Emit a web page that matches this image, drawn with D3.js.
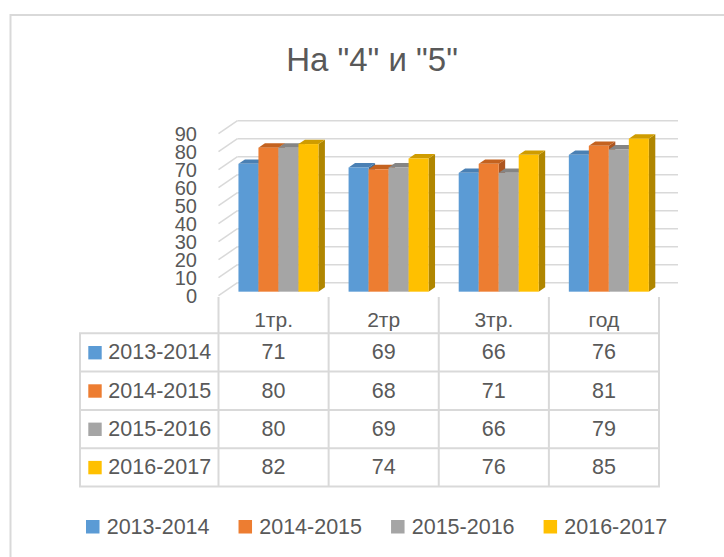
<!DOCTYPE html>
<html>
<head>
<meta charset="utf-8">
<script src="https://cdn.jsdelivr.net/npm/d3@7"></script>
<style>
  html, body { margin: 0; padding: 0; background: #fff; }
  svg { display: block; font-family: 'Liberation Sans', Arial, sans-serif; }
</style>
</head>
<body>
<div class="graph"></div>
<script>
const title = 'На "4" и "5"';
const categories = ['1тр.', '2тр', '3тр.', 'год'];
const seriesNames = ['2013-2014', '2014-2015', '2015-2016', '2016-2017'];
const values2013 = [71, 69, 66, 76];
const values2014 = [80, 68, 71, 81];
const values2015 = [80, 69, 66, 79];
const values2016 = [82, 74, 76, 85];
const yTicks = [0, 10, 20, 30, 40, 50, 60, 70, 80, 90];

const seriesValues = [values2013, values2014, values2015, values2016];
const colors = ['#5B9BD5', '#ED7D31', '#A5A5A5', '#FFC000'];
const topColors = ['#4a80b4', '#c4621f', '#858585', '#cf9c00'];
const sideColors = ['#3f6f9c', '#ad5520', '#737373', '#b08600'];

const width = 724;
const height = 557;
const textColor = '#595959';
const lineColor = '#d9d9d9';

// oblique depth of the plot floor
const depthX = 19;
const depthY = -13;
// bars sit between these fractions of the depth
const barF0 = 0.31;
const barF1 = 0.65;

const svg = d3.select('.graph').append('svg')
  .attr('width', width)
  .attr('height', height);

svg.append('rect')
  .attr('x', 10.5)
  .attr('y', 15)
  .attr('width', 900)
  .attr('height', 900)
  .attr('fill', '#fff')
  .attr('stroke', lineColor)
  .attr('stroke-width', 2);

svg.append('text')
  .attr('x', 372)
  .attr('y', 71)
  .attr('text-anchor', 'middle')
  .attr('font-size', 33)
  .attr('fill', textColor)
  .text(title);

const x = d3.scaleBand()
  .domain(categories)
  .range([218.5, 659]);

const y = d3.scaleLinear()
  .domain([0, 90])
  .range([295.7, 133.7]);

const xSeries = d3.scaleBand()
  .domain(seriesNames)
  .range([-41, 39]);

// gridlines: side wall and back wall
const grid = svg.append('g').classed('grid', true)
  .attr('stroke', lineColor)
  .attr('stroke-width', 1.5)
  .attr('fill', 'none');

grid.selectAll('.side')
  .data(yTicks)
  .enter()
  .append('line')
  .attr('x1', x.range()[0])
  .attr('y1', (d) => y(d))
  .attr('x2', x.range()[0] + depthX)
  .attr('y2', (d) => y(d) + depthY);

grid.selectAll('.back')
  .data(yTicks)
  .enter()
  .append('line')
  .attr('x1', x.range()[0] + depthX)
  .attr('y1', (d) => y(d) + depthY)
  .attr('x2', x.range()[1] + depthX)
  .attr('y2', (d) => y(d) + depthY);

// y axis labels
svg.append('g')
  .selectAll('text')
  .data(yTicks)
  .enter()
  .append('text')
  .attr('x', 197)
  .attr('y', (d) => y(d))
  .attr('dy', '0.36em')
  .attr('text-anchor', 'end')
  .attr('font-size', 20)
  .attr('fill', textColor)
  .text((d) => d);

// bars
const bdx = (barF1 - barF0) * depthX;
const bdy = (barF1 - barF0) * depthY;
const shiftX = barF0 * depthX;
const shiftY = barF0 * depthY;

const barData = [];
categories.forEach((c, ci) => {
  seriesNames.forEach((s, si) => {
    const x0 = x(c) + x.bandwidth() / 2 + xSeries(s) + shiftX;
    const x1 = x0 + xSeries.bandwidth();
    const yb = y(0) + shiftY;
    const yt = y(seriesValues[si][ci]) + shiftY;
    barData.push({ si, x0, x1, yb, yt });
  });
});

const bars = svg.append('g').classed('bars', true)
  .selectAll('g')
  .data(barData)
  .enter()
  .append('g');

bars.append('path')
  .attr('d', (d) => `M${d.x1},${d.yt}L${d.x1 + bdx},${d.yt + bdy}L${d.x1 + bdx},${d.yb + bdy}L${d.x1},${d.yb}Z`)
  .attr('fill', (d) => sideColors[d.si]);

bars.append('path')
  .attr('d', (d) => `M${d.x0},${d.yt}L${d.x1},${d.yt}L${d.x1 + bdx},${d.yt + bdy}L${d.x0 + bdx},${d.yt + bdy}Z`)
  .attr('fill', (d) => topColors[d.si]);

bars.append('rect')
  .attr('x', (d) => d.x0)
  .attr('y', (d) => d.yt)
  .attr('width', (d) => d.x1 - d.x0)
  .attr('height', (d) => d.yb - d.yt)
  .attr('fill', (d) => colors[d.si]);

// data table
const tableLeft = 80;
const headerTop = 297;
const rowTop = 333.3;
const rowH = 38.3;
const tableBottom = rowTop + rowH * seriesNames.length;

const table = svg.append('g').classed('table', true);

table.selectAll('.vline')
  .data(categories.map((c) => x(c)).concat([x.range()[1]]))
  .enter()
  .append('line')
  .attr('x1', (d) => d)
  .attr('x2', (d) => d)
  .attr('y1', headerTop)
  .attr('y2', tableBottom)
  .attr('stroke', lineColor)
  .attr('stroke-width', 2);

table.append('line')
  .attr('x1', tableLeft)
  .attr('x2', tableLeft)
  .attr('y1', rowTop)
  .attr('y2', tableBottom)
  .attr('stroke', lineColor)
  .attr('stroke-width', 2);

table.selectAll('.hline')
  .data(d3.range(seriesNames.length + 1))
  .enter()
  .append('line')
  .attr('x1', tableLeft - 1)
  .attr('x2', x.range()[1] + 1)
  .attr('y1', (d) => rowTop + d * rowH)
  .attr('y2', (d) => rowTop + d * rowH)
  .attr('stroke', lineColor)
  .attr('stroke-width', 2);

table.selectAll('.cat')
  .data(categories)
  .enter()
  .append('text')
  .attr('x', (d) => x(d) + x.bandwidth() / 2)
  .attr('y', 327)
  .attr('text-anchor', 'middle')
  .attr('font-size', 21)
  .attr('fill', textColor)
  .text((d) => d);

const rows = table.selectAll('.row')
  .data(seriesNames)
  .enter()
  .append('g')
  .attr('transform', (d, i) => `translate(0,${rowTop + i * rowH})`);

rows.append('rect')
  .attr('x', 88.3)
  .attr('y', 12.7)
  .attr('width', 13.4)
  .attr('height', 13.4)
  .attr('fill', (d, i) => colors[i]);

rows.append('text')
  .attr('x', 108.3)
  .attr('y', 26)
  .attr('font-size', 21.5)
  .attr('fill', textColor)
  .text((d) => d);

rows.each(function (s, si) {
  d3.select(this).selectAll('.val')
    .data(seriesValues[si])
    .enter()
    .append('text')
    .attr('x', (d, ci) => x(categories[ci]) + x.bandwidth() / 2)
    .attr('y', 26)
    .attr('text-anchor', 'middle')
    .attr('font-size', 21.5)
    .attr('fill', textColor)
    .text((d) => d);
});

// legend
const legend = svg.append('g').classed('legend', true)
  .attr('transform', 'translate(86,0)');

const items = legend.selectAll('g')
  .data(seriesNames)
  .enter()
  .append('g');

items.append('rect')
  .attr('x', 0)
  .attr('y', 520)
  .attr('width', 13.5)
  .attr('height', 13.5)
  .attr('fill', (d, i) => colors[i]);

items.append('text')
  .attr('x', 20.7)
  .attr('y', 534.3)
  .attr('font-size', 21.5)
  .attr('fill', textColor)
  .text((d) => d);

let offset = 0;
items.each(function () {
  const w = d3.select(this).select('text').node().getComputedTextLength();
  d3.select(this).attr('transform', `translate(${offset},0)`);
  offset += 20.7 + w + 29;
});
</script>
</body>
</html>
